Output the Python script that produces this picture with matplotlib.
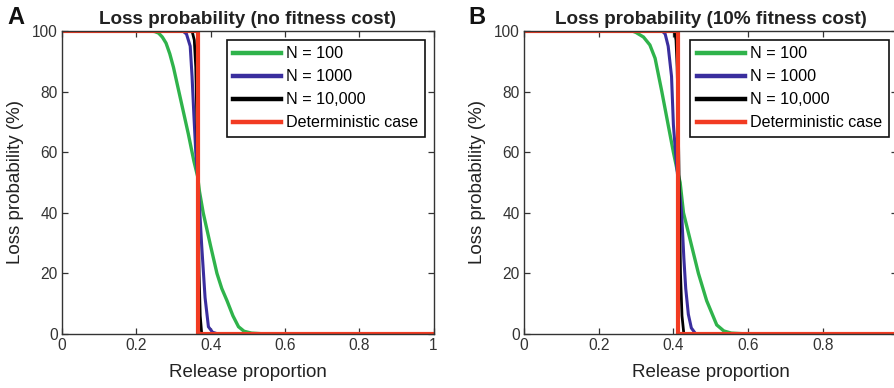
import matplotlib
matplotlib.use("Agg")
import matplotlib.pyplot as plt

plt.rcParams["font.family"] = ["Liberation Sans", "DejaVu Sans"]

# Panel A: no fitness cost
a_green_x = [0, 0.24, 0.25, 0.26, 0.27, 0.28, 0.29, 0.30, 0.32, 0.34, 0.355, 0.365, 0.37, 0.38,
             0.40, 0.417, 0.43, 0.444, 0.46, 0.475, 0.49, 0.51, 0.55, 1]
a_green_y = [100, 100, 99.8, 99.3, 98, 96, 92.5, 88, 77, 66, 57, 52, 47, 40, 29, 20, 15, 11, 6,
             2.4, 0.9, 0.3, 0, 0]
a_blue_x = [0, 0.325, 0.335, 0.345, 0.35, 0.355, 0.36, 0.365, 0.37, 0.376, 0.385, 0.394, 0.405, 0.42, 1]
a_blue_y = [100, 100, 99, 95, 85, 72, 60, 52, 42, 29, 12, 2.4, 0.6, 0, 0]
a_black_x = [0, 0.350, 0.356, 0.360, 0.363, 0.366, 0.369, 0.372, 0.376, 1]
a_black_y = [100, 100, 97, 88, 70, 45, 20, 6, 0, 0]
a_det_x = [0, 0.365, 0.365, 1]
a_det_y = [100, 100, 0, 0]

# Panel B: 10% fitness cost
b_green_x = [0, 0.29, 0.30, 0.32, 0.337, 0.351, 0.369, 0.386, 0.40, 0.409, 0.418, 0.427, 0.447,
             0.467, 0.489, 0.516, 0.535, 0.555, 0.60, 1]
b_green_y = [100, 100, 99.5, 98, 95.4, 91, 80, 69, 60, 54.7, 50, 40, 30, 20, 11, 3, 1, 0.3, 0, 0]
b_blue_x = [0, 0.37, 0.378, 0.386, 0.395, 0.40, 0.407, 0.413, 0.418, 0.422, 0.428, 0.433, 0.44,
            0.448, 0.46, 1]
b_blue_y = [100, 100, 99, 95, 85, 69, 58, 50, 45, 40, 25, 15, 6.5, 2, 0, 0]
b_black_x = [0, 0.403, 0.407, 0.410, 0.413, 0.416, 0.419, 0.423, 0.428, 1]
b_black_y = [100, 100, 97, 88, 70, 45, 20, 6, 0, 0]
b_det_x = [0, 0.413, 0.413, 1]
b_det_y = [100, 100, 0, 0]

labels = ["N = 100", "N = 1000", "N = 10,000", "Deterministic case"]
colors = ["#2fb34b", "#3a2e9e", "#000000", "#f23b22"]
widths = [2.4, 2.2, 2.0, 3.0]
ticks_x = [0, 0.2, 0.4, 0.6, 0.8, 1]
ticks_y = [0, 20, 40, 60, 80, 100]

W, H = 895, 388
fig = plt.figure(figsize=(W / 100, H / 100), dpi=100)


def panel(rect, series, title, letter, letter_x):
    ax = fig.add_axes(rect)
    for (x, y), lab, c, lw in zip(series, labels, colors, widths):
        ax.plot(x, y, color=c, lw=lw, label=lab, solid_joinstyle="miter")
    ax.set_xlim(0, 1)
    ax.set_ylim(0, 100)
    ax.set_xticks(ticks_x)
    ax.set_xticklabels(["0", "0.2", "0.4", "0.6", "0.8", "1"])
    ax.set_yticks(ticks_y)
    ax.tick_params(direction="in", length=4, width=0.9, top=True, right=True,
                   labelsize=11.2, colors="#333333", pad=3)
    for s in ax.spines.values():
        s.set_color("#333333")
        s.set_linewidth(1.0)
    ax.set_xlabel("Release proportion", fontsize=13.5, color="#222222", labelpad=7.5)
    ax.set_ylabel("Loss probability (%)", fontsize=13.5, color="#222222", labelpad=6)
    ax.set_title(title, fontsize=13.6, fontweight="bold", color="#222222", pad=5)
    leg = ax.legend(loc="upper right", fontsize=11.6, fancybox=False, framealpha=1,
                    edgecolor="#111111", handlelength=3.0, handletextpad=0.3,
                    labelspacing=0.5, borderpad=0.4, borderaxespad=0.55)
    leg.get_frame().set_linewidth(1.2)
    for line in leg.get_lines():
        line.set_linewidth(3.2)
    fig.text(letter_x, 1 - 18 / H, letter, fontsize=17, fontweight="bold",
             ha="left", va="center", color="#111111")
    return ax


ax_a = panel([62 / W, 54 / H, 371.6 / W, 303 / H],
             [(a_green_x, a_green_y), (a_blue_x, a_blue_y), (a_black_x, a_black_y), (a_det_x, a_det_y)],
             "Loss probability (no fitness cost)", "A", 7 / W)
ax_b = panel([524 / W, 54 / H, 373.5 / W, 303 / H],
             [(b_green_x, b_green_y), (b_blue_x, b_blue_y), (b_black_x, b_black_y), (b_det_x, b_det_y)],
             "Loss probability (10% fitness cost)", "B", 468 / W)

fig.savefig("out.png", dpi=100)
